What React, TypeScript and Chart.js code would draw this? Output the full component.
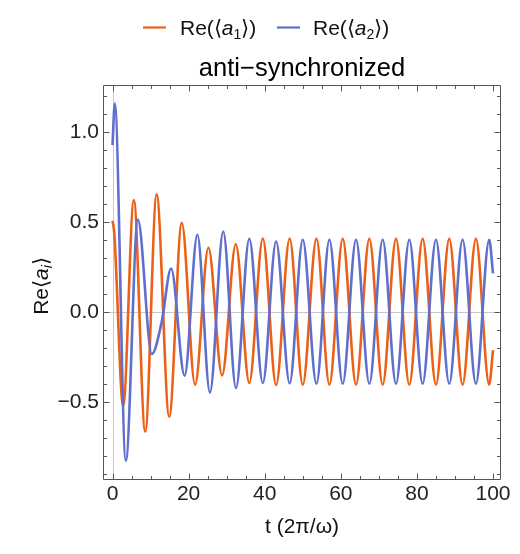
import React, { useEffect, useRef } from 'react';
import { Chart, registerables } from 'chart.js';

Chart.register(...registerables);

// ---- data ----
const a1Times = [0, 0.45, 2.8, 5.6, 8.6, 11.6, 14.9, 18.2, 21.7, 25.2, 28.8, 32.4, 35.95, 39.5, 43.0, 46.55, 50.0, 53.6, 57.0, 60.5, 64.0, 67.5, 71.0, 74.5, 78.0, 81.5, 85.0, 88.5, 92.0, 95.5, 99.0, 100];
const a1Values = [0.505, 0.44, -0.524, 0.62, -0.667, 0.652, -0.583, 0.494, -0.406, 0.356, -0.354, 0.375, -0.396, 0.407, -0.407, 0.407, -0.405, 0.405, -0.405, 0.405, -0.405, 0.405, -0.405, 0.405, -0.405, 0.405, -0.405, 0.405, -0.405, 0.405, -0.405, -0.213];

const a2Times = [0, 0.6, 3.5, 6.66, 10.34, 12.9, 15.4, 18.95, 22.3, 25.6, 29.1, 32.45, 35.95, 39.5, 43.0, 46.55, 50.0, 53.6, 57.0, 60.5, 64.0, 67.5, 71.0, 74.5, 78.0, 81.5, 85.0, 88.5, 92.0, 95.5, 99.0, 100];
const a2Values = [0.926, 1.157, -0.828, 0.513, -0.235, -0.06, 0.24, -0.355, 0.428, -0.449, 0.446, -0.424, 0.406, -0.396, 0.39, -0.398, 0.40, -0.40, 0.40, -0.40, 0.40, -0.40, 0.40, -0.40, 0.40, -0.40, 0.40, -0.40, 0.40, -0.40, 0.40, 0.213];

const seriesLabels = ['Re(⟨a₁⟩)', 'Re(⟨a₂⟩)'];
const seriesSubscripts = ['1', '2'];
const titleText = 'anti−synchronized';
const xTitleText = 't (2π/ω)';

const xRange = [-2.5, 102.1];
const yRange = [-0.935, 1.26];
const xMajorTicks = [0, 20, 40, 60, 80, 100];
const xMinorTicks = [5, 10, 15, 25, 30, 35, 45, 50, 55, 65, 70, 75, 85, 90, 95];
const yMajorTicks = [-0.5, 0, 0.5, 1.0];
const yMinorTicks = [-0.9, -0.8, -0.7, -0.6, -0.4, -0.3, -0.2, -0.1, 0.1, 0.2, 0.3, 0.4, 0.6, 0.7, 0.8, 0.9, 1.1, 1.2];

const ORANGE = '#EB6117';
const BLUE = '#5E6FCD';
const FONT = "'Liberation Sans', Arial, Helvetica, sans-serif";

type Seg = { text: string; font: string; dy?: number };

function richWidth(ctx: CanvasRenderingContext2D, segs: Seg[]) {
  let w = 0;
  for (const s of segs) {
    ctx.font = s.font;
    w += ctx.measureText(s.text).width;
  }
  return w;
}

function drawRich(ctx: CanvasRenderingContext2D, segs: Seg[], x: number, y: number) {
  let cx = x;
  for (const s of segs) {
    ctx.font = s.font;
    ctx.fillText(s.text, cx, y + (s.dy || 0));
    cx += ctx.measureText(s.text).width;
  }
}

export default function App() {
  const ref = useRef<HTMLCanvasElement | null>(null);

  useEffect(() => {
    document.body.style.margin = '0';
    const canvas = ref.current;
    if (!canvas) return;

    const pts = (ts: number[], vs: number[]) => ts.map((t, i) => ({ x: t, y: vs[i] }));

    const framePlugin = {
      id: 'mmaFrame',
      beforeDatasetsDraw(chart: any) {
        const { ctx, chartArea: a, scales } = chart;
        const x = scales.x, y = scales.y;
        ctx.save();
        ctx.strokeStyle = '#c8c8c8';
        ctx.lineWidth = 1;
        const y0 = Math.round(y.getPixelForValue(0)) + 0.5;
        const x0 = Math.round(x.getPixelForValue(0)) + 0.5;
        ctx.beginPath();
        ctx.moveTo(a.left, y0);
        ctx.lineTo(a.right, y0);
        ctx.moveTo(x0, a.top);
        ctx.lineTo(x0, a.bottom);
        ctx.stroke();
        ctx.restore();
      },
      afterDatasetsDraw(chart: any) {
        const { ctx, chartArea: a, scales } = chart;
        const x = scales.x, y = scales.y;
        const L = Math.round(a.left) + 0.5, R = Math.round(a.right) - 0.5;
        const T = Math.round(a.top) + 0.5, B = Math.round(a.bottom) - 0.5;
        ctx.save();
        ctx.strokeStyle = '#555';
        ctx.lineWidth = 1;
        ctx.beginPath();
        ctx.rect(L, T, R - L, B - T);
        const major = 6, minor = 3.5;
        const xt = (vals: number[], len: number) => {
          for (const v of vals) {
            const p = Math.round(x.getPixelForValue(v)) + 0.5;
            ctx.moveTo(p, B); ctx.lineTo(p, B - len);
            ctx.moveTo(p, T); ctx.lineTo(p, T + len);
          }
        };
        const yt = (vals: number[], len: number) => {
          for (const v of vals) {
            const p = Math.round(y.getPixelForValue(v)) + 0.5;
            ctx.moveTo(L, p); ctx.lineTo(L + len, p);
            ctx.moveTo(R, p); ctx.lineTo(R - len, p);
          }
        };
        xt(xMajorTicks, major);
        xt(xMinorTicks, minor);
        yt(yMajorTicks, major);
        yt(yMinorTicks, minor);
        ctx.stroke();
        ctx.restore();
      },
      afterDraw(chart: any) {
        const { ctx } = chart;
        ctx.save();
        ctx.fillStyle = '#111';
        ctx.textBaseline = 'alphabetic';
        ctx.textAlign = 'left';
        // legend
        const legendItems = [
          { color: ORANGE, lineX: 143, textX: 180 },
          { color: BLUE, lineX: 277, textX: 313 },
        ];
        legendItems.forEach((it, i) => {
          ctx.strokeStyle = it.color;
          ctx.lineWidth = 2.2;
          ctx.beginPath();
          ctx.moveTo(it.lineX, 27.5);
          ctx.lineTo(it.lineX + 23, 27.5);
          ctx.stroke();
          const segs: Seg[] = [
            { text: 'Re(⟨', font: `21px ${FONT}` },
            { text: 'a', font: `italic 21px ${FONT}` },
            { text: seriesSubscripts[i], font: `14px ${FONT}`, dy: 4 },
            { text: '⟩)', font: `21px ${FONT}` },
          ];
          ctx.fillStyle = '#111';
          drawRich(ctx, segs, it.textX, 35);
        });
        // y-axis title
        const ySegs: Seg[] = [
          { text: 'Re⟨', font: `21px ${FONT}` },
          { text: 'a', font: `italic 21px ${FONT}` },
          { text: 'i', font: `italic 14px ${FONT}`, dy: 4 },
          { text: '⟩', font: `21px ${FONT}` },
        ];
        const w = richWidth(ctx, ySegs);
        ctx.translate(48, 286);
        ctx.rotate(-Math.PI / 2);
        drawRich(ctx, ySegs, -w / 2, 0);
        ctx.restore();
      },
    };

    const fmtY = (v: number) => (v < 0 ? '−' : '') + Math.abs(v).toFixed(1);

    const chart = new Chart(canvas, {
      type: 'line',
      data: {
        datasets: [
          {
            label: seriesLabels[0],
            data: pts(a1Times, a1Values),
            borderColor: ORANGE,
            backgroundColor: ORANGE,
            borderWidth: 2.6,
            pointRadius: 0,
            fill: false,
            cubicInterpolationMode: 'monotone',
            order: 2,
          },
          {
            label: seriesLabels[1],
            data: pts(a2Times, a2Values),
            borderColor: BLUE,
            backgroundColor: BLUE,
            borderWidth: 2.6,
            pointRadius: 0,
            fill: false,
            cubicInterpolationMode: 'monotone',
            order: 1,
          },
        ],
      },
      options: {
        animation: false,
        responsive: true,
        maintainAspectRatio: false,
        layout: { padding: { top: 50, right: 19, bottom: 0, left: 0 } },
        plugins: {
          legend: { display: false },
          tooltip: { enabled: false },
          title: {
            display: true,
            fullSize: false,
            text: titleText,
            color: '#000',
            font: { family: FONT, size: 25.5, weight: 'normal', lineHeight: 1.2 },
            padding: { top: 3.2, bottom: 1.2 },
          },
        },
        scales: {
          x: {
            type: 'linear',
            min: xRange[0],
            max: xRange[1],
            grid: { display: false, drawTicks: false },
            border: { display: false },
            afterBuildTicks: (s: any) => {
              s.ticks = xMajorTicks.map((v) => ({ value: v }));
            },
            afterFit: (s: any) => {
              s.height = 74;
            },
            ticks: {
              padding: 2,
              color: '#222',
              font: { family: FONT, size: 21 },
              maxRotation: 0,
              callback: (v: any) => String(v),
            },
            title: {
              display: true,
              text: xTitleText,
              color: '#111',
              font: { family: FONT, size: 21 },
              padding: { top: 0, bottom: 14.4 },
            },
          },
          y: {
            type: 'linear',
            min: yRange[0],
            max: yRange[1],
            grid: { display: false, drawTicks: false },
            border: { display: false },
            afterBuildTicks: (s: any) => {
              s.ticks = yMajorTicks.map((v) => ({ value: v }));
            },
            afterFit: (s: any) => {
              s.width = 103;
            },
            ticks: {
              padding: 4,
              color: '#222',
              font: { family: FONT, size: 21 },
              callback: (v: any) => fmtY(Number(v)),
            },
          },
        },
      },
      plugins: [framePlugin],
    } as any);

    return () => chart.destroy();
  }, []);

  return (
    <div style={{ width: 520, height: 554, position: 'relative' }}>
      <canvas ref={ref} />
    </div>
  );
}
